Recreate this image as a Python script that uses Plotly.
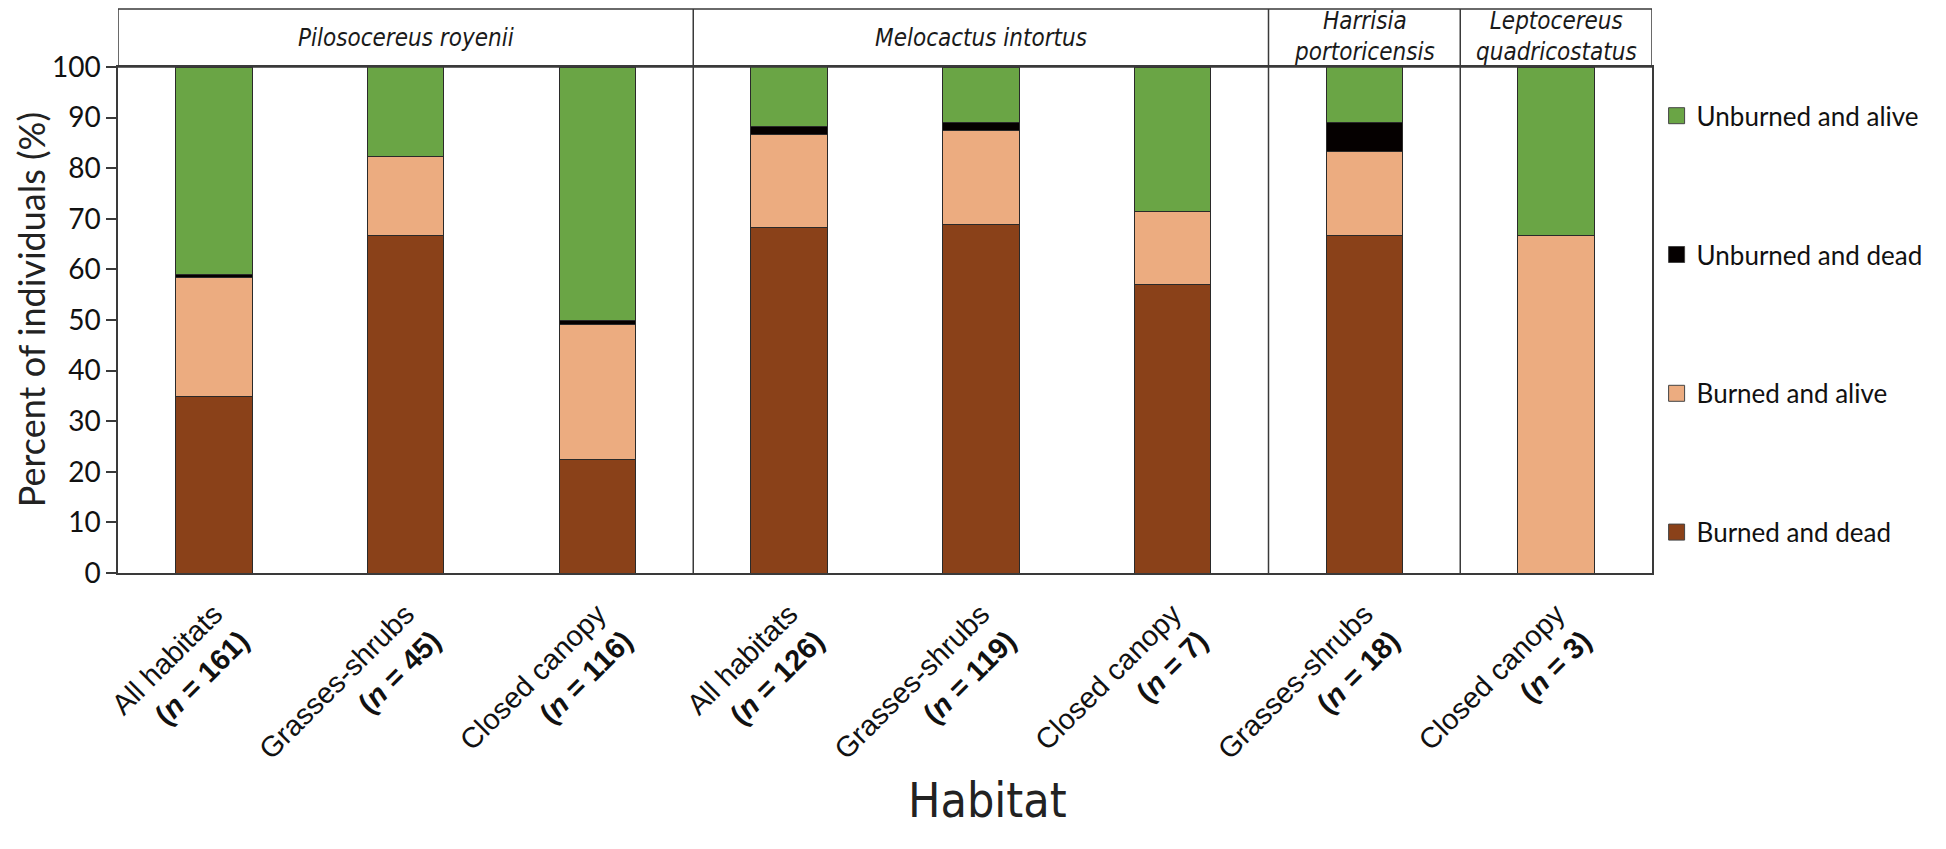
import plotly.graph_objects as go

# ---------------- data ----------------
species_of = ["Pilosocereus royenii"] * 3 + ["Melocactus intortus"] * 3 + \
             ["Harrisia<br>portoricensis", "Leptocereus<br>quadricostatus"]
habitats = ["All habitats", "Grasses-shrubs", "Closed canopy",
            "All habitats", "Grasses-shrubs", "Closed canopy",
            "Grasses-shrubs", "Closed canopy"]
sample_n = [161, 45, 116, 126, 119, 7, 18, 3]

burned_dead = [34.8, 66.7, 22.4, 68.3, 68.9, 57.1, 66.7, 0.0]
burned_alive = [23.6, 15.6, 26.7, 18.3, 18.5, 14.3, 16.7, 66.7]
unburned_dead = [0.6, 0.0, 0.9, 1.6, 1.7, 0.0, 5.6, 0.0]
unburned_alive = [41.0, 17.8, 50.0, 11.9, 10.9, 28.6, 11.1, 33.3]

series_names = ["Burned and dead", "Burned and alive", "Unburned and dead", "Unburned and alive"]
series_vals = [burned_dead, burned_alive, unburned_dead, unburned_alive]
series_colors = ["#8A4119", "#ECAC80", "#050000", "#6AA545"]

y_ticks = list(range(0, 101, 10))

# ---------------- figure ----------------
xpos = list(range(len(habitats)))
ticktext = [f"{h}<br><b>(<i>n</i> = {n})</b>" for h, n in zip(habitats, sample_n)]

NARROW = "Liberation Sans Narrow, Arial Narrow, DejaVu Sans Condensed, Liberation Sans"

fig = go.Figure()
for name, vals, col in zip(series_names, series_vals, series_colors):
    fig.add_trace(go.Bar(
        x=xpos, y=vals, name=name, showlegend=False,
        marker=dict(color=col, line=dict(color="#2a2a2a", width=1)),
    ))

# legend entries (larger square swatches), top entry first
for i, (name, col) in enumerate(zip(series_names[::-1], series_colors[::-1])):
    fig.add_trace(go.Scatter(
        x=[None], y=[None], mode="markers", name=name, legendgroup=f"g{i}",
        marker=dict(symbol="square", size=20, color=col, line=dict(color="#444", width=1)),
    ))

LINE = "#3a3a3a"
HEAD_TOP = 1.1146

# header box
fig.add_shape(type="rect", xref="x", yref="paper", x0=-0.5, x1=len(xpos) - 0.5,
              y0=1, y1=HEAD_TOP, line=dict(color=LINE, width=1.5), fillcolor="rgba(0,0,0,0)")

# group boundaries and labels
groups = []
for i, sp in enumerate(species_of):
    if not groups or groups[-1][0] != sp:
        groups.append([sp, i, i])
    else:
        groups[-1][2] = i
for k, (sp, a, b) in enumerate(groups):
    two_line = "<br>" in sp
    fig.add_annotation(x=(a + b) / 2, y=(1 + HEAD_TOP) / 2, xref="x", yref="paper",
                       xanchor="center", yanchor="middle", yshift=2 if two_line else 0,
                       text=f"<i>{sp}</i>", showarrow=False,
                       font=dict(family=NARROW, size=24, color="#1a1a1a"))
    if k > 0:
        fig.add_shape(type="line", xref="x", yref="paper", x0=a - 0.5, x1=a - 0.5,
                      y0=0, y1=HEAD_TOP, line=dict(color=LINE, width=1.5))

fig.add_annotation(x=0.5665, y=-0.449, xref="paper", yref="paper", text="Habitat",
                   showarrow=False, xanchor="center", yanchor="middle",
                   font=dict(family=NARROW, size=48, color="#222"))

fig.add_annotation(x=-0.0565, y=0.52, xref="paper", yref="paper",
                   text="Percent of individuals (%)", textangle=-90,
                   showarrow=False, xanchor="center", yanchor="middle",
                   font=dict(family="Lato, Open Sans, sans-serif", size=36, color="#222"))

fig.update_layout(
    width=1946, height=849,
    margin=dict(l=110, r=302, t=59, b=284),
    barmode="stack", bargap=0.6,
    plot_bgcolor="white", paper_bgcolor="white",
    showlegend=True,
    legend=dict(x=1.003, y=0.95, xanchor="left", yanchor="top",
                traceorder="grouped", tracegroupgap=102,
                font=dict(family="Lato, Open Sans, sans-serif", size=26, color="#111"),
                bgcolor="rgba(0,0,0,0)"),
    xaxis=dict(range=[-0.5, len(xpos) - 0.5], tickvals=xpos, ticktext=ticktext,
               tickangle=-45, showline=True, linecolor=LINE, linewidth=1.5, mirror=True,
               showgrid=False, zeroline=False, ticks="", ticklabelstandoff=11,
               tickfont=dict(family="Liberation Sans, Arial, sans-serif", size=29, color="#111")),
    yaxis=dict(range=[0, 100], tickvals=y_ticks, ticks="outside", ticklen=10,
               tickcolor=LINE, tickwidth=1.5,
               showline=True, linecolor=LINE, linewidth=1.5, mirror=True,
               showgrid=False, zeroline=False,
               tickfont=dict(family="Lato, Open Sans, sans-serif", size=28, color="#111")),
)

fig.write_html("out.html")
